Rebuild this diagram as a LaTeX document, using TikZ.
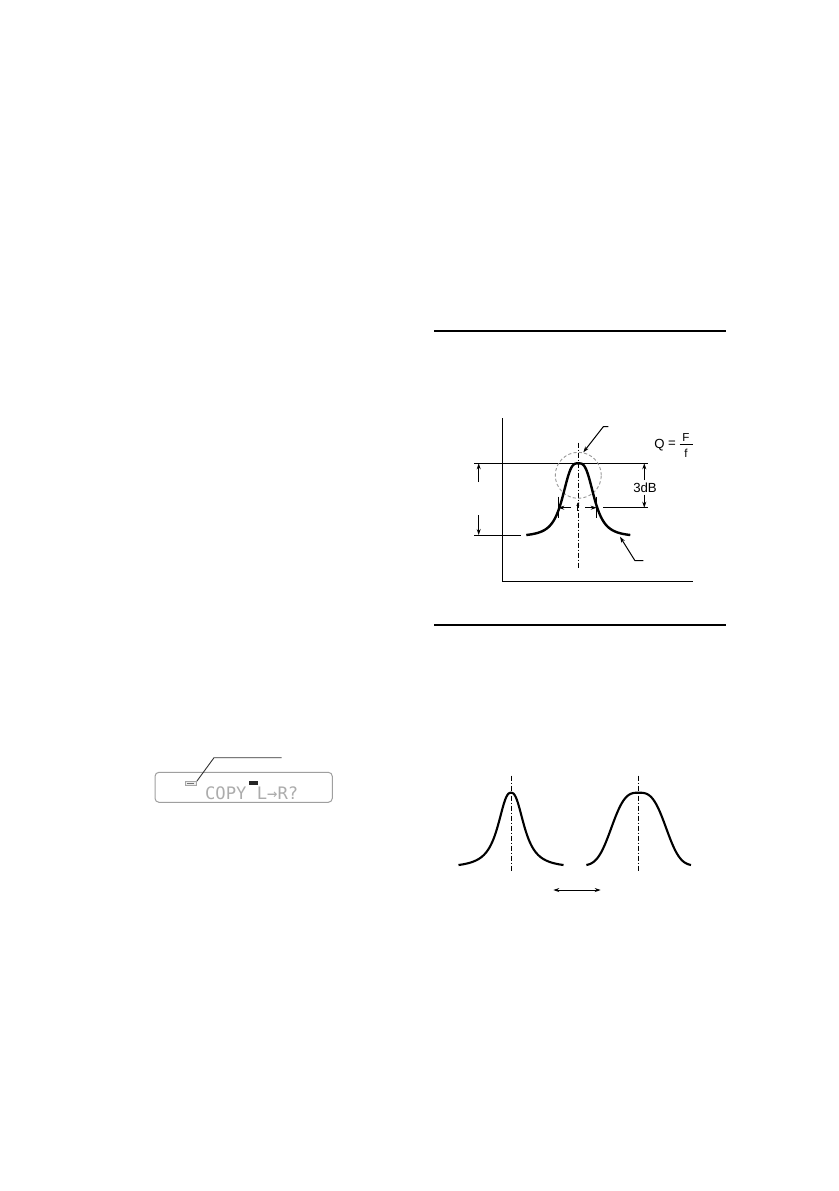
\documentclass[tikz,border=0pt]{standalone}
\usepackage{fontspec}
\setmainfont{Liberation Sans}
\newfontfamily\lcdfont{DejaVu Sans Mono}
\usetikzlibrary{arrows.meta}
\begin{document}
\begin{tikzpicture}[x=0.5pt,y=-0.5pt,
  rulebar/.style={line width=1pt},
  axisline/.style={line width=0.65pt},
  thinline/.style={line width=0.5pt},
  curveline/.style={line width=1.2pt,line join=round},
  curvetwo/.style={line width=1.05pt,line join=round},
  dashdotline/.style={line width=0.5pt,dash pattern=on 2.5pt off 1pt on 0.5pt off 1pt},
  arr/.style={thinline,-{Stealth[length=3pt,width=2pt]}},
  darr/.style={thinline,{Stealth[length=3pt,width=2pt]}-{Stealth[length=3pt,width=2pt]}},
  lab/.style={inner sep=0pt,font=\fontsize{6.6}{7}\selectfont},
  smalllab/.style={inner sep=0pt,font=\fontsize{5.8}{6}\selectfont},
  declare function={
    gA(\t)=1/(1+(abs(\t)/16.6)^3.2);
    gB(\t)=1/(1+(abs(\t)/14.5)^2.5);
    gC(\t)=exp(-(abs(\t)/31.5)^3);
  }]
\fill[white] (0,0) rectangle (839,1191);
\path[use as bounding box] (0,0) rectangle (839,1191);

% horizontal rules
\coordinate (r1a) at (434,331); \coordinate (r1b) at (726,331);
\coordinate (r2a) at (434,625); \coordinate (r2b) at (726,625);
\draw[rulebar] (r1a) -- (r1b);
\draw[rulebar] (r2a) -- (r2b);

% ---------- Q graph ----------
\coordinate (ytop) at (502.7,418);
\coordinate (orig) at (502.7,581.7);
\coordinate (xend) at (692.7,581.7);
\draw[axisline] (ytop) -- (orig) -- (xend);

% level lines
\coordinate (tlA) at (474,463.3); \coordinate (tlB) at (648.3,463.3);
\coordinate (blA) at (474,535); \coordinate (blB) at (520.7,535);
\coordinate (mlA) at (603.3,507.7); \coordinate (mlB) at (648.3,507.7);
\draw[thinline] (tlA) -- (tlB);
\draw[thinline] (blA) -- (blB);
\draw[thinline] (mlA) -- (mlB);

% left height arrows
\coordinate (la1) at (478.7,482); \coordinate (la1t) at (478.7,463.3);
\coordinate (la2) at (478.7,515); \coordinate (la2t) at (478.7,535);
\draw[arr] (la1) -- (la1t);
\draw[arr] (la2) -- (la2t);

% 3dB arrows and label
\node[lab] (db) at (645,487.3) {3dB};
\coordinate (ra1t) at (644.3,463.3);
\coordinate (ra2t) at (644.3,507.7);
\draw[arr] (db.north -| ra1t) ++(0,-2) -- (ra1t);
\draw[arr] (db.south -| ra2t) ++(0,2) -- (ra2t);

% centre line
\coordinate (cA) at (578.3,442.7); \coordinate (cB) at (578.3,568.3);
\draw[dashdotline] (cA) -- (cB);

% dashed circle
\coordinate (circ) at (578.3,475.3);
\draw[gray!80,line width=0.45pt,dash pattern=on 1.6pt off 1.1pt] (circ) circle[radius=11.5pt];

% curve
\draw[curveline] plot[domain=-52:52,samples=100,smooth]
  ({578.3+\x},{535-71.7*(gA(\x)-gA(52))/(1-gA(52))});

% bandwidth ticks and f
\coordinate (tk1a) at (558.3,496.7); \coordinate (tk1b) at (558.3,518.3);
\coordinate (tk2a) at (596.7,496.7); \coordinate (tk2b) at (596.7,518.3);
\draw[thinline] (tk1a) -- (tk1b);
\draw[thinline] (tk2a) -- (tk2b);
\node[smalllab] (fb) at (577.7,507.5) {f};
\coordinate (fl) at (571,507.7); \coordinate (flt) at (558.3,507.7);
\coordinate (fr) at (585,507.7); \coordinate (frt) at (596.7,507.7);
\draw[arr] (fl) -- (flt);
\draw[arr] (fr) -- (frt);

% leader lines
\coordinate (ld1e) at (608.3,426.7); \coordinate (ld1k) at (603.3,426.7); \coordinate (ld1t) at (583.3,452.3);
\draw[arr] (ld1e) -- (ld1k) -- (ld1t);
\coordinate (ld2e) at (643.3,560.7); \coordinate (ld2k) at (635,560.7); \coordinate (ld2t) at (620,536.7);
\draw[arr] (ld2e) -- (ld2k) -- (ld2t);

% Q = F/f
\node[lab] (Q) at (659.5,445) {Q};
\node[lab] (eq) at (672,444.5) {=};
\node[smalllab] (F) at (686,437.5) {F};
\node[smalllab] (fq) at (686,453) {f};
\coordinate (fbA) at (679.5,444.3); \coordinate (fbB) at (692.7,444.3);
\draw[line width=0.45pt] (fbA) -- (fbB);

% ---------- bottom curves ----------
\coordinate (d1a) at (511,775.7); \coordinate (d1b) at (511,871.7);
\coordinate (d2a) at (638.7,775.7); \coordinate (d2b) at (638.7,871.7);
\draw[dashdotline] (d1a) -- (d1b);
\draw[dashdotline] (d2a) -- (d2b);
\draw[curvetwo] plot[domain=-52.5:52.5,samples=100,smooth]
  ({511+\x},{865-72.3*(gB(\x)-gB(52.5))/(1-gB(52.5))});
\draw[curvetwo] plot[domain=-52.3:52.3,samples=100,smooth]
  ({638.7+\x},{865-72.3*(gC(\x)-gC(52.3))/(1-gC(52.3))});
\coordinate (wa) at (553.3,890); \coordinate (wb) at (600.7,890);
\draw[darr] (wa) -- (wb);

% ---------- LCD display ----------
\draw[gray!75,line width=0.5pt,rounded corners=2pt] (155,772.3) rectangle (332.3,802.3);
\node[draw=gray!70,fill=gray!15,line width=0.3pt,minimum width=5.8pt,minimum height=2pt,inner sep=0pt] (icon1) at (190.8,783.4) {};
\fill[black!55] (187.3,782.8) rectangle (194.3,784.1);
\node[fill=black!85,minimum width=4.5pt,minimum height=1.7pt,inner sep=0pt] (icon2) at (253.8,783) {};
\coordinate (lcA) at (214,757.7); \coordinate (lcB) at (281.7,757.7);
\draw[line width=0.45pt,black!80] (icon1.north east) -- (lcA) -- (lcB);
\node[inner sep=0pt,text=gray!65,font=\lcdfont\fontsize{8.6}{9}\selectfont] (lcd) at (251.7,793.6) {COPY L→R?};
\end{tikzpicture}
\end{document}
